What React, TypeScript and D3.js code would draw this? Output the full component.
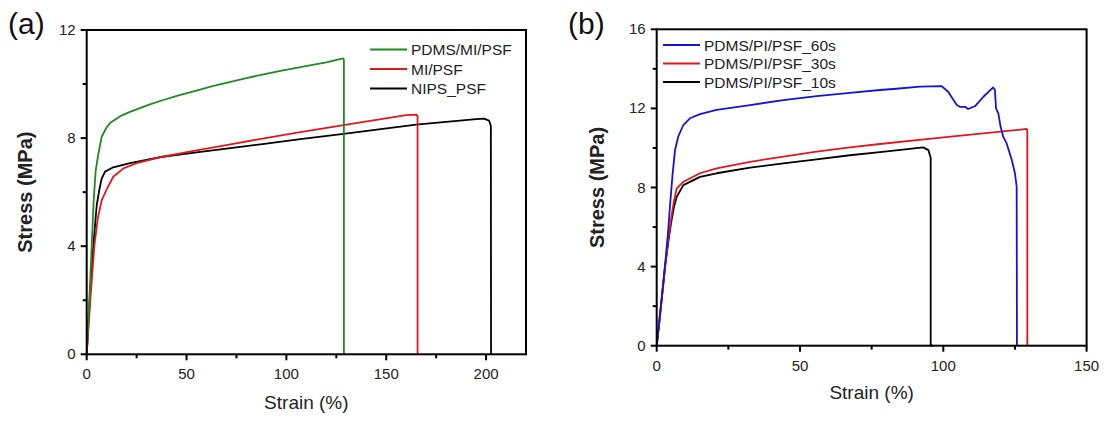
import * as d3 from 'd3'

// ---- panel (a) data: [strain %, stress MPa]
const pdmsMiPsf: [number, number][] = [
  [0, 0], [1.3, 2], [2.5, 4], [3.5, 5.7], [4.5, 6.8], [5.8, 7.4], [7.5, 8.05], [10, 8.4],
  [12, 8.58], [17, 8.82], [22, 8.98], [27, 9.12], [32, 9.26], [38, 9.4], [46, 9.58],
  [55, 9.76], [63, 9.92], [72, 10.08], [80, 10.22], [88, 10.35], [97, 10.49],
  [107, 10.63], [120, 10.8], [128.4, 10.95], [128.8, 10.9], [128.8, 0],
]
const miPsf: [number, number][] = [
  [0, 0], [1.8, 2], [3.8, 4], [5.5, 5.0], [7.5, 5.7], [10, 6.1], [13.3, 6.57], [18.4, 6.88],
  [25, 7.07], [38, 7.31], [55, 7.55], [72, 7.77], [88, 7.98], [107, 8.22], [128.6, 8.48],
  [160, 8.85], [165.2, 8.87], [165.7, 8.8], [165.7, 0],
]
const nipsPsf: [number, number][] = [
  [0, 0], [1.5, 2], [3.3, 4], [5, 5.5], [6.3, 6.08], [7.5, 6.5], [9.2, 6.76], [13.3, 6.92],
  [21.7, 7.07], [38, 7.31], [55, 7.47], [72, 7.63], [88, 7.78], [107, 7.96], [128.6, 8.16],
  [165, 8.5], [195, 8.7], [199, 8.72], [201.5, 8.65], [202.4, 8.45], [202.5, 0],
]

// ---- panel (b) data
const pi60s: [number, number][] = [
  [0, 0], [1, 1.4], [2, 2.8], [3, 4.2], [4, 5.8], [4.6, 7.0], [5.5, 8.6], [6.4, 9.9],
  [7.5, 10.57], [9.3, 11.16], [11.6, 11.5], [15.1, 11.71], [20.9, 11.92], [32.6, 12.17],
  [44.2, 12.42], [55.8, 12.62], [67.4, 12.79], [77.9, 12.93], [82.6, 12.98], [91.9, 13.1],
  [99.4, 13.13], [101.7, 12.84], [104.7, 12.17], [105.8, 12.08], [107.6, 12.08],
  [108.7, 11.97], [111.1, 12.12], [114, 12.59], [117.4, 13.06], [118, 12.93], [118.4, 12.0],
  [119.2, 11.75], [120, 11.07], [120.9, 10.57], [122.1, 10.23], [123.9, 9.39], [125, 8.72],
  [125.6, 8.04], [125.7, 0],
]
const pi30s: [number, number][] = [
  [0, 0], [1, 1.3], [2, 2.7], [3, 4.1], [4, 5.3], [5, 6.4], [6, 7.3], [7, 7.96], [9.3, 8.29],
  [15.1, 8.72], [20.9, 8.97], [32.6, 9.3], [44.2, 9.56], [55.8, 9.81], [67.4, 10.03],
  [77.9, 10.2], [100, 10.54], [129.1, 10.96], [129.3, 10.9], [129.3, 0],
]
const pi10s: [number, number][] = [
  [0, 0], [1, 1.3], [2, 2.7], [3, 4.1], [4, 5.2], [5, 6.2], [6, 7.0], [7, 7.53], [9.3, 8.12],
  [15.1, 8.54], [20.9, 8.72], [32.6, 9.0], [44.2, 9.22], [55.8, 9.42], [67.4, 9.63],
  [77.9, 9.79], [93, 10.03], [94.8, 9.89], [95.6, 9.5], [95.6, 0], [96.4, 0],
]

const xTicksA = [0, 50, 100, 150, 200]
const xMinorA = [25, 75, 125, 175]
const yTicksA = [0, 4, 8, 12]
const yMinorA = [2, 6, 10]
const xTicksB = [0, 50, 100, 150]
const xMinorB = [25, 75, 125]
const yTicksB = [0, 4, 8, 12, 16]
const yMinorB = [2, 6, 10, 14]

const FONT = 'Arial, "Liberation Sans", Helvetica, sans-serif'
const TXT = '#222'

type Series = { name: string; color: string; data: [number, number][] }

const seriesA: Series[] = [
  { name: 'PDMS/MI/PSF', color: '#1e8c1e', data: pdmsMiPsf },
  { name: 'MI/PSF', color: '#e3161c', data: miPsf },
  { name: 'NIPS_PSF', color: '#000000', data: nipsPsf },
]
const seriesB: Series[] = [
  { name: 'PDMS/PI/PSF_60s', color: '#1414d6', data: pi60s },
  { name: 'PDMS/PI/PSF_30s', color: '#e3161c', data: pi30s },
  { name: 'PDMS/PI/PSF_10s', color: '#000000', data: pi10s },
]

function Panel(props: {
  tag: string; tagX: number
  left: number; right: number; top: number; bottom: number
  xMax: number; yMax: number
  xTicks: number[]; xMinor: number[]; yTicks: number[]; yMinor: number[]
  series: Series[]
  legendX: number; legendY: number; legendStep: number
  yTitleX: number; xTitleY: number
}) {
  const p = props
  const x = d3.scaleLinear().domain([0, p.xMax]).range([p.left, p.right])
  const y = d3.scaleLinear().domain([0, p.yMax]).range([p.bottom, p.top])
  const line = d3.line<[number, number]>().x((d) => x(d[0])).y((d) => y(d[1]))
  const drawOrder = [...p.series].reverse()
  return (
    <g fontFamily={FONT}>
      <text x={p.tagX} y={34} fontSize={30} fill="#111">{p.tag}</text>
      {drawOrder.map((s) => (
        <path key={s.name} d={line(s.data) ?? ''} fill="none" stroke={s.color} strokeWidth={1.8} strokeLinejoin="round" />
      ))}
      <rect x={p.left} y={p.top} width={p.right - p.left} height={p.bottom - p.top} fill="none" stroke="#000" strokeWidth={2} />
      {p.xTicks.map((t) => (
        <g key={'xt' + t}>
          <line x1={x(t)} x2={x(t)} y1={p.bottom} y2={p.bottom + 6} stroke="#000" strokeWidth={2} />
          <text x={x(t)} y={p.bottom + 25} fontSize={15} fill={TXT} textAnchor="middle">{t}</text>
        </g>
      ))}
      {p.xMinor.map((t) => (
        <line key={'xm' + t} x1={x(t)} x2={x(t)} y1={p.bottom} y2={p.bottom + 4} stroke="#000" strokeWidth={2} />
      ))}
      {p.yTicks.map((t) => (
        <g key={'yt' + t}>
          <line x1={p.left - 6} x2={p.left} y1={y(t)} y2={y(t)} stroke="#000" strokeWidth={2} />
          <text x={p.left - 11} y={y(t) + 5} fontSize={15} fill={TXT} textAnchor="end">{t}</text>
        </g>
      ))}
      {p.yMinor.map((t) => (
        <line key={'ym' + t} x1={p.left - 4} x2={p.left} y1={y(t)} y2={y(t)} stroke="#000" strokeWidth={2} />
      ))}
      <text x={(p.left + p.right) / 2} y={p.xTitleY} fontSize={19} fill={TXT} textAnchor="middle">Strain (%)</text>
      <text transform={`translate(${p.yTitleX},${(p.top + p.bottom) / 2}) rotate(-90)`} fontSize={20} fontWeight="bold" fill={TXT} textAnchor="middle" dy="0.35em">Stress (MPa)</text>
      {p.series.map((s, i) => {
        const ly = p.legendY + i * p.legendStep
        return (
          <g key={'lg' + s.name}>
            <line x1={p.legendX} x2={p.legendX + 37} y1={ly} y2={ly} stroke={s.color} strokeWidth={2} />
            <text x={p.legendX + 41} y={ly + 5.5} fontSize={15.5} fill={TXT}>{s.name}</text>
          </g>
        )
      })}
    </g>
  )
}

export default function App() {
  return (
    <svg width={1105} height={421} style={{ position: 'absolute', left: 0, top: 0, background: '#fff' }}>
      <rect width={1105} height={421} fill="#fff" />
      <Panel tag="(a)" tagX={8} left={86.7} right={526} top={30} bottom={354.3}
        xMax={220} yMax={12} xTicks={xTicksA} xMinor={xMinorA} yTicks={yTicksA} yMinor={yMinorA}
        series={seriesA} legendX={370} legendY={49.5} legendStep={19.5} yTitleX={25} xTitleY={409} />
      <Panel tag="(b)" tagX={568} left={656.7} right={1086.6} top={29.3} bottom={345.7}
        xMax={150} yMax={16} xTicks={xTicksB} xMinor={xMinorB} yTicks={yTicksB} yMinor={yMinorB}
        series={seriesB} legendX={663} legendY={45} legendStep={18.5} yTitleX={597} xTitleY={399} />
    </svg>
  )
}
